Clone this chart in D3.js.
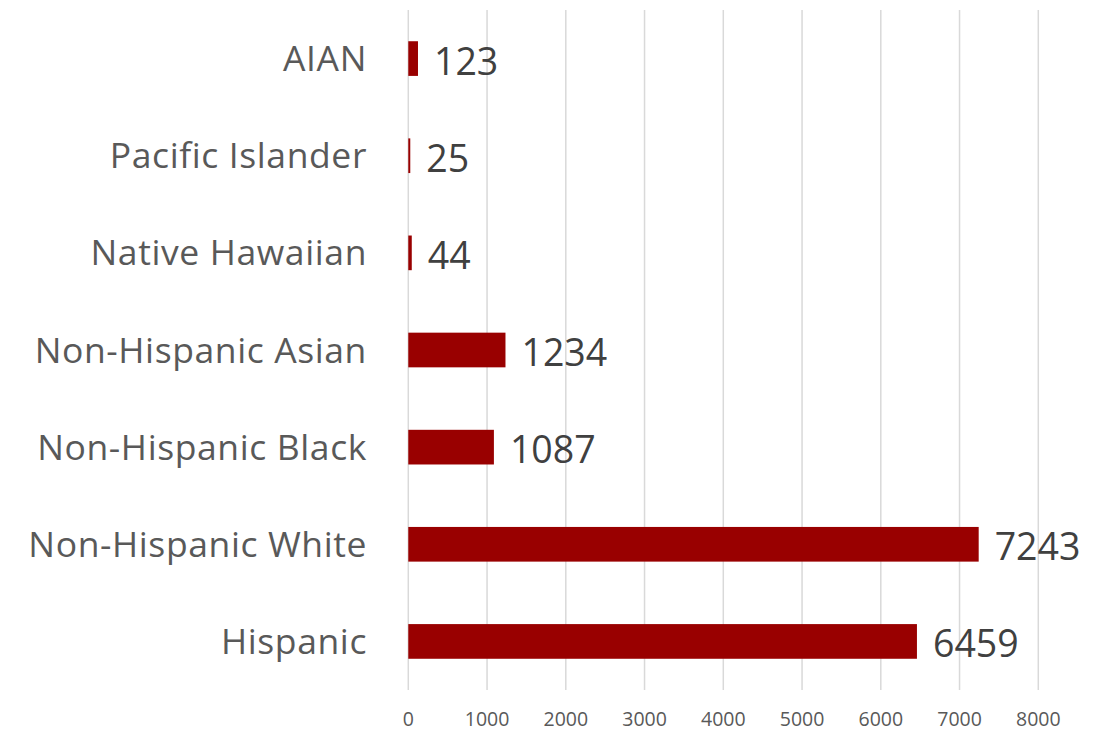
<!DOCTYPE html>
<html><head><meta charset="utf-8">
<script src="https://cdn.jsdelivr.net/npm/d3@7"></script>
<style>body{margin:0;background:#fff}svg{display:block}</style>
</head><body>
<script>
const categories = ["AIAN","Pacific Islander","Native Hawaiian","Non-Hispanic Asian","Non-Hispanic Black","Non-Hispanic White","Hispanic"];
const values = [123,25,44,1234,1087,7243,6459];
const xTicks = [0,1000,2000,3000,4000,5000,6000,7000,8000];

const W=1107,H=732;
const svg=d3.select("body").append("svg").attr("width",W).attr("height",H);
const x=d3.scaleLinear().domain([0,8000]).range([408.3,1038.3]);
const y=d3.scaleBand().domain(categories).range([10,690]).paddingInner(0.643).paddingOuter(0.3215);
const font="'Open Sans', sans-serif";

// gridlines
svg.append("g").selectAll("line").data(xTicks).join("line")
  .attr("x1",d=>x(d)).attr("x2",d=>x(d)).attr("y1",10).attr("y2",690)
  .attr("stroke","#d9d9d9").attr("stroke-width",1.5);

// tick labels
svg.append("g").selectAll("text").data(xTicks).join("text")
  .attr("x",d=>x(d)).attr("y",726).attr("text-anchor","middle")
  .attr("font-family",font).attr("font-size",19.5).attr("fill","#595959").text(d=>d);

// bars
svg.append("g").selectAll("rect").data(values).join("rect")
  .attr("x",x(0)).attr("y",(d,i)=>y(categories[i])).attr("height",y.bandwidth())
  .attr("width",d=>x(d)-x(0)).attr("fill","#990000");

// category labels
svg.append("g").selectAll("text").data(categories).join("text")
  .attr("x",367).attr("y",d=>y(d)+y.bandwidth()/2+12.5).attr("text-anchor","end")
  .attr("font-family",font).attr("font-size",35.5).attr("letter-spacing","0.6px")
  .attr("fill","#595959").text(d=>d);

// value labels
svg.append("g").selectAll("text").data(values).join("text")
  .attr("x",d=>x(d)+16).attr("y",(d,i)=>y(categories[i])+y.bandwidth()/2+16)
  .attr("font-family",font).attr("font-size",37.5).attr("fill","#404040").text(d=>d);
</script>
</body></html>
